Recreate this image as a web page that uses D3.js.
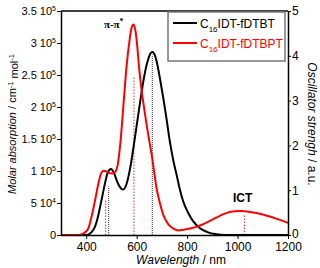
<!DOCTYPE html>
<html>
<head>
<meta charset="utf-8">
<script src="https://cdn.jsdelivr.net/npm/d3@7"></script>
<style>
  body { margin: 0; background: #fff; }
  svg { display: block; font-family: "Liberation Sans", Arial, sans-serif; }
</style>
</head>
<body>
<div id="chart"></div>
<script>
// absorption spectra, values in units of 1e5 cm-1 mol-1
const blackSpectrum = [
  [300,0],[400,0],[410,0.01],[420,0.04],[435,0.13],[445,0.26],[455,0.44],[465,0.63],
  [474,0.8],[485,0.97],[498,1.03],[510,0.97],[522,0.84],[535,0.74],[547,0.71],[560,0.8],
  [574,1.04],[587,1.36],[600,1.71],[613,2.06],[626,2.39],[636,2.6],[646,2.75],[655,2.84],
  [662,2.86],[670,2.83],[680,2.7],[693,2.43],[706,2.13],[719,1.8],[732,1.45],[745,1.17],
  [759,0.93],[772,0.7],[785,0.52],[805,0.34],[825,0.21],[850,0.11],[878,0.05],[917,0.01],
  [950,0],[1200,0]
]
const redSpectrum = [
  [300,0],[360,0],[380,0.01],[395,0.04],[408,0.1],[420,0.27],[435,0.54],[448,0.8],
  [458,0.95],[467,1.0],[475,1.0],[490,0.97],[505,0.96],[514,0.98],[525,1.1],[535,1.42],
  [547,2.0],[560,2.64],[572,3.05],[580,3.24],[588,3.29],[596,3.17],[603,2.92],[610,2.6],
  [620,2.25],[630,1.97],[640,1.71],[650,1.47],[660,1.24],[670,0.97],[679,0.73],[692,0.5],
  [706,0.31],[725,0.17],[746,0.1],[765,0.07],[785,0.08],[810,0.1],[840,0.13],[864,0.17],
  [900,0.24],[930,0.3],[960,0.35],[990,0.37],[1016,0.375],[1050,0.36],[1100,0.32],
  [1150,0.26],[1200,0.19]
]

// calculated oscillator strengths (right axis)
const blackOsc = [[489,1.08],[662,4.03]]
const redOsc = [[477,0.8],[589,3.52],[1027,0.47]]

const seriesNames = ["IDT-fDTBT", "IDT-fDTBPT"]
const xTicks = [400, 600, 800, 1000, 1200]
const absTicks = [0, 0.5, 1, 1.5, 2, 2.5, 3, 3.5]
const absTickText = ["0", "5 10", "1 10", "1.5 10", "2 10", "2.5 10", "3 10", "3.5 10"]
const absTickExp = ["", "4", "5", "5", "5", "5", "5", "5"]
const oscTicks = [0, 1, 2, 3, 4, 5]

var margin = { top: 11, right: 32, bottom: 33, left: 61 }
    , width = 320 - margin.left - margin.right
    , height = 268 - margin.top - margin.bottom

const svg = d3.select("#chart").append("svg")
    .attr("width", 320)
    .attr("height", 268)
    .append("g")
    .attr("transform", "translate(" + margin.left + "," + margin.top + ")");

const x = d3.scaleLinear().domain([300, 1200]).range([0, width])
const y = d3.scaleLinear().domain([0, 3.5]).range([height, 0])
const y2 = d3.scaleLinear().domain([0, 5]).range([height, 0])

// oscillator sticks
function sticks(data, color, dash) {
    svg.selectAll(null)
        .data(data)
        .enter()
        .append("line")
        .attr("x1", d => x(d[0]))
        .attr("x2", d => x(d[0]))
        .attr("y1", y2(0))
        .attr("y2", d => y2(d[1]))
        .attr("stroke", color)
        .attr("stroke-width", 1)
        .attr("stroke-dasharray", dash)
}
sticks(redOsc, "#ff2020", "1.5,1.5")
sticks(blackOsc, "#333", "1,1")

const line = d3.line()
    .x(d => x(d[0]))
    .y(d => y(d[1]))
    .curve(d3.curveMonotoneX)

svg.append("path")
    .datum(blackSpectrum)
    .attr("fill", "none")
    .attr("stroke", "#000")
    .attr("stroke-width", 2)
    .attr("d", line)

svg.append("path")
    .datum(redSpectrum)
    .attr("fill", "none")
    .attr("stroke", "#ff0000")
    .attr("stroke-width", 2)
    .attr("d", line)

// axes
const xaxis = d3.axisBottom(x).tickValues(xTicks).tickFormat(d3.format("d")).tickSize(4).tickSizeOuter(0)
const gx = svg.append("g")
    .attr("transform", "translate(0," + height + ")")
    .call(xaxis)
gx.selectAll("text").style("font-size", "12px").attr("y", 7).attr("fill", "#000")

const gy = svg.append("g")
    .call(d3.axisLeft(y).tickValues(absTicks).tickFormat("").tickSize(4).tickSizeOuter(0))

const ylab = svg.append("g").selectAll("text")
    .data(absTicks)
    .enter()
    .append("text")
    .attr("x", -5)
    .attr("y", d => y(d))
    .attr("dy", "0.35em")
    .attr("text-anchor", "end")
    .style("font-size", "11px")
ylab.append("tspan").text((d, i) => absTickText[i])
ylab.append("tspan")
    .attr("dy", "-0.5em")
    .style("font-size", "7px")
    .text((d, i) => absTickExp[i])

const gy2 = svg.append("g")
    .attr("transform", "translate(" + width + ",0)")
    .call(d3.axisRight(y2).tickValues(oscTicks).tickFormat(d3.format("d")).tickSize(3).tickSizeOuter(0))
gy2.selectAll("text").style("font-size", "12px").attr("x", 4).attr("fill", "#000")
gy2.selectAll(".tick").filter(d => d === 0).select("text").attr("dy", "0.2em")

svg.selectAll(".domain").attr("stroke-width", 1.5)

// top frame
svg.append("line")
    .attr("x1", 0).attr("x2", width)
    .attr("y1", 0).attr("y2", 0)
    .attr("stroke", "#000")
    .attr("stroke-width", 1.5)

// axis titles
const xt = svg.append("text")
    .attr("text-anchor", "middle")
    .attr("transform", "translate(" + 120 + "," + (height + 29) + ")")
    .style("font-size", "12px")
xt.append("tspan").style("font-style", "italic").text("Wavelength")
xt.append("tspan").text(" / nm")

const yt = svg.append("text")
    .attr("text-anchor", "middle")
    .attr("transform", "translate(" + (-45) + "," + (height / 2 + 1) + ")rotate(-90)")
    .style("font-size", "11px")
yt.append("tspan").style("font-style", "italic").text("Molar absorption")
yt.append("tspan").text(" / cm")
yt.append("tspan").attr("dy", "-0.45em").style("font-size", "7.5px").text("-1")
yt.append("tspan").attr("dy", "0.45em").text(" mol")
yt.append("tspan").attr("dy", "-0.45em").style("font-size", "7.5px").text("-1")

const y2t = svg.append("text")
    .attr("text-anchor", "middle")
    .attr("transform", "translate(" + (width + 20) + "," + (height / 2 + 1) + ")rotate(90)")
    .style("font-size", "12px")
y2t.append("tspan").style("font-style", "italic").text("Oscillator strengh")
y2t.append("tspan").text(" / a.u.")

// band labels
const pp = svg.append("text")
    .attr("x", x(470))
    .attr("y", 17)
    .style("font-family", "'Liberation Serif', 'Times New Roman', serif")
    .style("font-weight", "bold")
    .style("font-size", "11px")
pp.append("tspan").text("π-π")
pp.append("tspan").attr("dy", "-0.45em").style("font-size", "8px").text("*")

svg.append("text")
    .attr("x", x(1020))
    .attr("y", 191)
    .attr("text-anchor", "middle")
    .style("font-weight", "bold")
    .style("font-size", "12px")
    .text("ICT")

// legend
const legend = svg.append("g").attr("transform", "translate(107,1)")
legend.append("rect")
    .attr("width", 117).attr("height", 49)
    .attr("fill", "#fff")
    .attr("stroke", "#777")
    .attr("stroke-width", 1.5)

const legendColors = ["#000", "#ff0000"]
const item = legend.selectAll("g.item")
    .data(seriesNames)
    .enter()
    .append("g")
    .attr("transform", (d, i) => "translate(0," + (11 + i * 20) + ")")
item.append("line")
    .attr("x1", 5).attr("x2", 29)
    .attr("stroke", (d, i) => legendColors[i])
    .attr("stroke-width", 2)
const lt = item.append("text")
    .attr("x", 32)
    .attr("y", 4.5)
    .attr("fill", (d, i) => legendColors[i])
    .style("font-size", "12px")
lt.append("tspan").text("C")
lt.append("tspan").attr("dy", "4").style("font-size", "8px").text("16")
lt.append("tspan").attr("dy", "-4").text(d => d)
</script>
</body>
</html>
